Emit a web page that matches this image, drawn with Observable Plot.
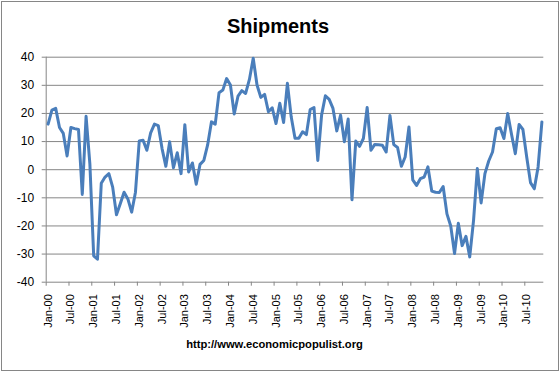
<!DOCTYPE html>
<html>
<head>
<meta charset="utf-8">
<script src="https://cdn.jsdelivr.net/npm/d3@7"></script>
<script src="https://cdn.jsdelivr.net/npm/@observablehq/plot@0.6"></script>
<style>
  html, body { margin: 0; padding: 0; background: #fff; }
  #chart { position: relative; width: 560px; height: 374px; overflow: hidden; font-family: "Liberation Sans", Arial, sans-serif; }
  #border { position: absolute; left: 1px; top: 1px; width: 556px; height: 368px; border: 1px solid #868686; }
  #title { position: absolute; left: 0; width: 556px; top: 14px; text-align: center; font-weight: bold; font-size: 20px; line-height: 24px; color: #000; }
  #caption { position: absolute; left: 0; width: 549px; top: 337px; text-align: center; font-weight: bold; font-size: 11.2px; line-height: 14px; color: #000; }
  #plot { position: absolute; left: 0; top: 0; }
</style>
</head>
<body>
<div id="chart">
  <div id="border"></div>
  <div id="plot"></div>
  <div id="title">Shipments</div>
  <div id="caption">http://www.economicpopulist.org</div>
</div>
<script>
// Monthly values, Jan-00 .. Nov-10 (one row per year)
const values = [
  16.2, 21.2, 21.8, 15, 12.9, 4.9, 15, 14.6, 14.3, -8.8, 19, 2,          // 2000
  -30.6, -31.8, -4.8, -2.6, -1.4, -6.2, -16, -12.1, -8, -10.4, -15.1, -8, // 2001
  10.2, 10.5, 6.9, 13.1, 16.2, 15.7, 7.5, 1.2, 9.9, 0.7, 6, -1.4,        // 2002
  16, -0.8, 2.4, -5.2, 1.9, 3.3, 8.8, 17, 16.2, 27.4, 28.3, 32.4,        // 2003
  30.1, 19.8, 26.2, 28.1, 27.1, 32.1, 39.6, 30.1, 25.7, 26.8, 20.6, 22,  // 2004
  16.4, 23.6, 16.8, 30.7, 18.8, 11.2, 11.2, 13.5, 12.5, 21.4, 22.1, 3.3, // 2005
  19.4, 26.3, 25, 21.8, 13.8, 19.4, 9.9, 18, -10.7, 10.2, 8.3, 11.1,     // 2006
  22.1, 6.9, 9, 8.9, 8.7, 6.3, 19.3, 8.9, 7.9, 1.2, 4.5, 15.2,           // 2007
  -3.6, -5.6, -3.2, -2.6, 1, -7.6, -8, -8.1, -6, -15.7, -20, -29.8,      // 2008
  -19, -27, -23.7, -31, -18.1, 0.4, -11.8, -1.4, 3.1, 6.3, 14.6, 14.9,   // 2009
  11.1, 20, 12.6, 5.7, 16.1, 14.3, 4.5, -4.6, -6.8, 1, 17                // 2010
];
const tickLabels = ["Jan-00","Jul-00","Jan-01","Jul-01","Jan-02","Jul-02","Jan-03","Jul-03",
  "Jan-04","Jul-04","Jan-05","Jul-05","Jan-06","Jul-06","Jan-07","Jul-07",
  "Jan-08","Jul-08","Jan-09","Jul-09","Jan-10","Jul-10"];
const yTicks = [-40, -30, -20, -10, 0, 10, 20, 30, 40];

const n = values.length;
const labelPos = tickLabels.map((_, k) => k * 6);
const boundaryPos = tickLabels.map((_, k) => k * 6 - 0.5);
const data = values.map((v, i) => ({i, v}));

const chart = Plot.plot({
  width: 560,
  height: 374,
  marginLeft: 45.7,
  marginRight: 16.7,
  marginTop: 56.7,
  marginBottom: 92.3,
  style: {fontFamily: "'Liberation Sans', Arial, sans-serif", background: "transparent", color: "#000"},
  x: {domain: [-0.5, n - 0.5], axis: null},
  y: {domain: [-40, 40], axis: null},
  marks: [
    Plot.gridY(yTicks.filter(d => d > -40), {stroke: "#868686", strokeOpacity: 1, strokeWidth: 1}),
    Plot.axisY(yTicks, {label: null, tickSize: 4, tickPadding: 8, fontSize: 12, stroke: "#868686", fill: "#000", tickFormat: d => String(d)}),
    Plot.ruleX([-0.5], {stroke: "#868686"}),
    Plot.ruleY([-40], {stroke: "#868686"}),
    Plot.axisX(boundaryPos, {label: null, tickSize: 4, tickFormat: () => "", stroke: "#868686"}),
    Plot.axisX(labelPos, {label: null, tickSize: 0, tickPadding: 12, tickRotate: -90, fontSize: 11, fill: "#000", tickFormat: d => tickLabels[d / 6]}),
    Plot.lineY(data, {x: "i", y: "v", stroke: "#4a7ebb", strokeWidth: 3, strokeLinejoin: "round", strokeLinecap: "round"})
  ]
});
document.getElementById("plot").appendChild(chart);
</script>
</body>
</html>
